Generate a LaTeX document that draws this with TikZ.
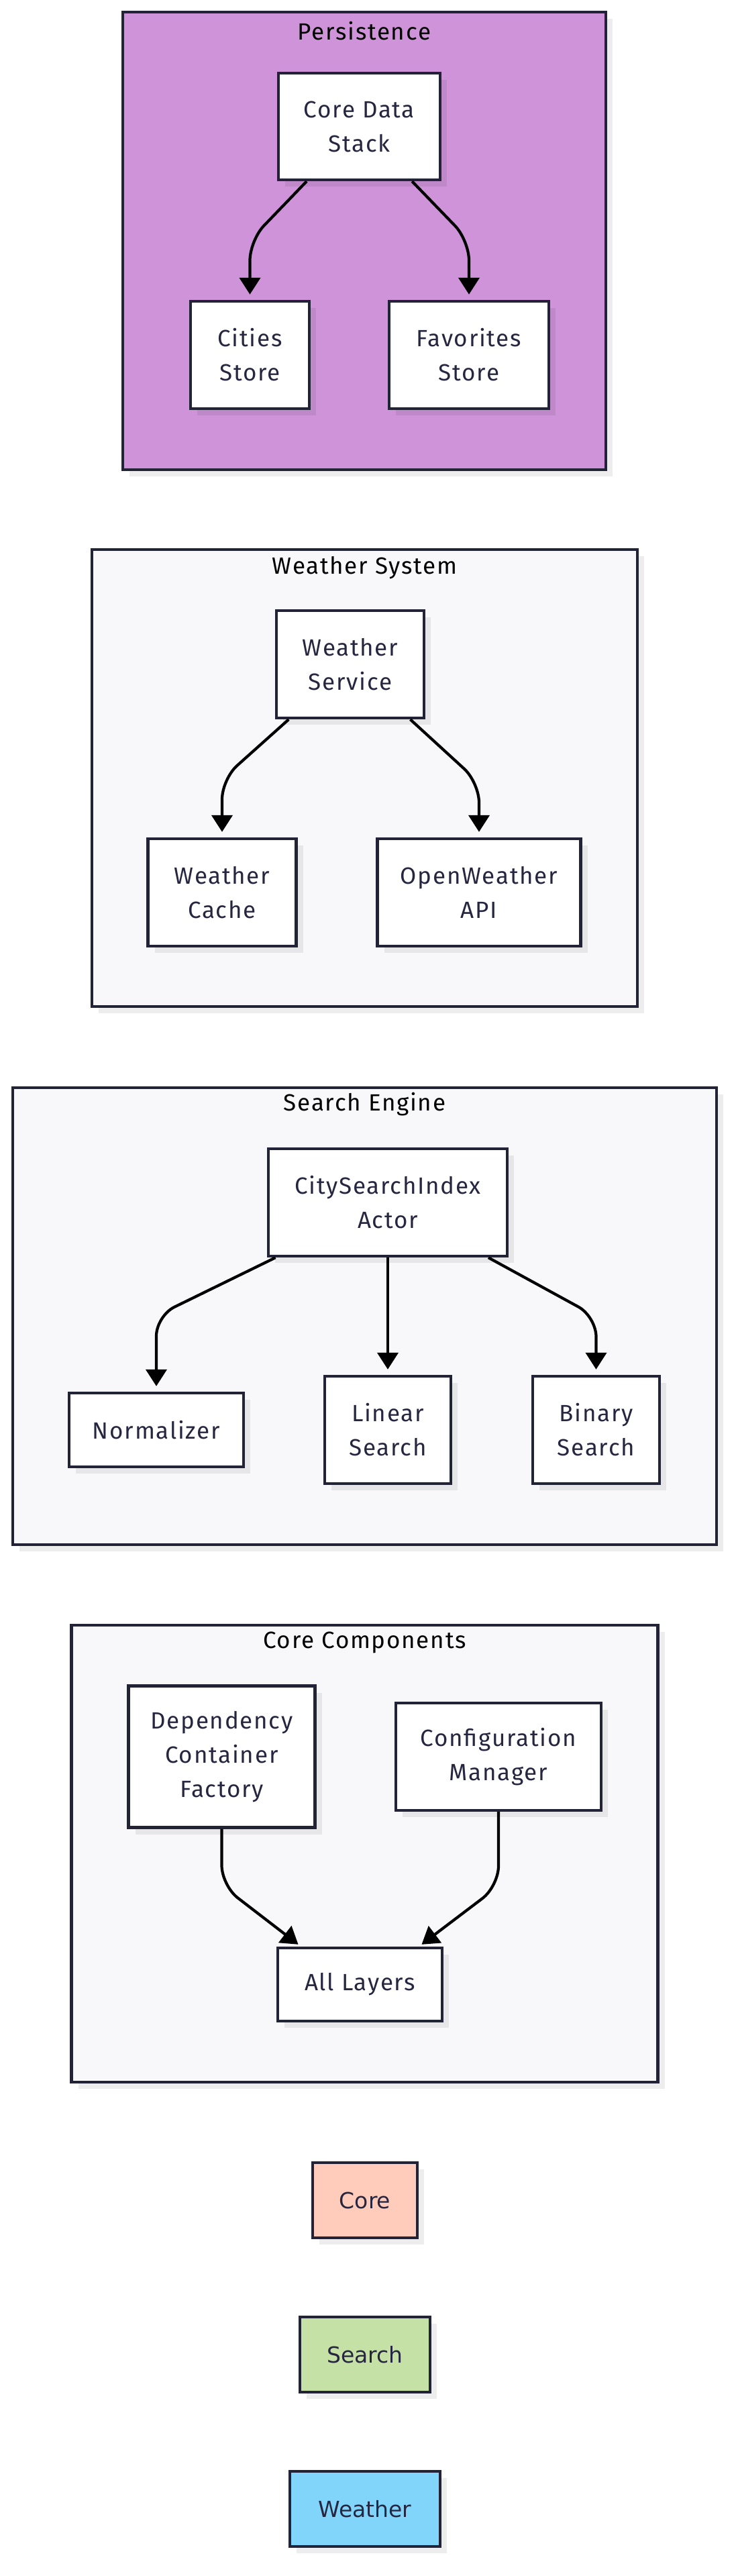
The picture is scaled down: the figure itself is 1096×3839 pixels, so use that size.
\documentclass[tikz,border=0pt]{standalone}
\usepackage{fontspec}
\setmainfont[LetterSpace=5]{Fira Sans}
\newfontfamily\legendfont{DejaVu Sans}
\usetikzlibrary{positioning,arrows.meta,calc,shadows}
\definecolor{edge}{HTML}{232338}
\definecolor{ink}{HTML}{262640}
\definecolor{grp}{HTML}{F8F8FA}
\definecolor{persist}{HTML}{CE93D8}
\definecolor{corec}{HTML}{FFCCBC}
\definecolor{searchc}{HTML}{C5E1A5}
\definecolor{weatherc}{HTML}{81D4FA}

\begin{document}
\begin{tikzpicture}[x=1pt,y=-1pt,font=\fontsize{35}{51}\selectfont,
  softshadow/.style={drop shadow={shadow xshift=10pt,shadow yshift=-10pt,opacity=.07,fill=black}},
  box/.style={draw=edge,line width=4.4pt,fill=white,text=ink,align=center,inner sep=0pt,softshadow},
  group/.style={draw=edge,line width=4.4pt,fill=grp,softshadow},
  arr/.style={-{Triangle[length=25pt,width=31pt]},line width=4.2pt,rounded corners=30pt,shorten >=8pt},
  legend/.style={box,font=\legendfont\fontsize{33}{40}\selectfont,minimum height=112pt}]
\fill[white] (0,0) rectangle (1096,3839);
\useasboundingbox (0,0) rectangle (1096,3839);

% Persistence
\draw[group,fill=persist] (183,18) rectangle (903,700);
\node (tpersist) at (543,46) {Persistence};
\node[box,minimum width=241pt,minimum height=159pt] (coredata) at (535.5,188.5) {Core Data\\Stack};
\node[box,minimum width=177pt,minimum height=160pt] (cities) at (372.5,529) {Cities\\Store};
\node[box,minimum width=238pt,minimum height=160pt] (favs) at (699,529) {Favorites\\Store};
\coordinate (pl) at (372.5,358); \coordinate (pr) at (699,358);
\draw[arr] (coredata) -- (pl) -- (cities);
\draw[arr] (coredata) -- (pr) -- (favs);

% Weather System
\draw[group] (137,819) rectangle (950,1500);
\node (tweather) at (543.5,846) {Weather System};
\node[box,minimum width=220pt,minimum height=160pt] (wservice) at (522,990) {Weather\\Service};
\node[box,minimum width=221pt,minimum height=160pt] (wcache) at (331,1330) {Weather\\Cache};
\node[box,minimum width=303pt,minimum height=160pt] (owapi) at (714,1330) {OpenWeather\\API};
\coordinate (wl) at (331,1161); \coordinate (wr) at (714,1166);
\draw[arr] (wservice) -- (wl) -- (wcache);
\draw[arr] (wservice) -- (wr) -- (owapi);

% Search Engine
\draw[group] (19,1621) rectangle (1068,2302);
\node (tsearch) at (543.5,1646) {Search Engine};
\node[box,minimum width=356pt,minimum height=160pt] (csi) at (578,1792) {CitySearchIndex\\Actor};
\node[box,minimum width=260pt,minimum height=110pt] (norm) at (233,2131) {Normalizer};
\node[box,minimum width=188pt,minimum height=160pt] (linear) at (578,2131) {Linear\\Search};
\node[box,minimum width=189pt,minimum height=160pt] (binary) at (888.5,2131) {Binary\\Search};
\coordinate (sl) at (233,1961); \coordinate (sr) at (888.5,1962);
\draw[arr] (csi) -- (sl) -- (norm);
\draw[arr] (csi) -- (linear);
\draw[arr] (csi) -- (sr) -- (binary);

% Core Components
\draw[group] (106.5,2422) rectangle (980.5,3103);
\node (tcore) at (543.5,2448) {Core Components};
\node[box,minimum width=278pt,minimum height=211pt] (dcf) at (330.5,2618) {Dependency\\Container\\Factory};
\node[box,minimum width=306pt,minimum height=160pt] (cfg) at (743,2618) {Configuration\\Manager};
\node[box,minimum width=245pt,minimum height=109pt] (layers) at (536.5,2957.5) {All Layers};
\coordinate (cl) at (330.5,2810); \coordinate (cr) at (743,2811);
\draw[arr,shorten >=5pt] (dcf) -- (cl) -- ($(layers.north)+(-88,0)$);
\draw[arr,shorten >=5pt] (cfg) -- (cr) -- ($(layers.north)+(88,0)$);

% legend
\node[legend,fill=corec,minimum width=156pt] (lcore) at (544,3279) {Core};
\node[legend,fill=searchc,minimum width=194pt] (lsearch) at (544,3509) {Search};
\node[legend,fill=weatherc,minimum width=224pt] (lweather) at (544,3739) {Weather};
\end{tikzpicture}
\end{document}
